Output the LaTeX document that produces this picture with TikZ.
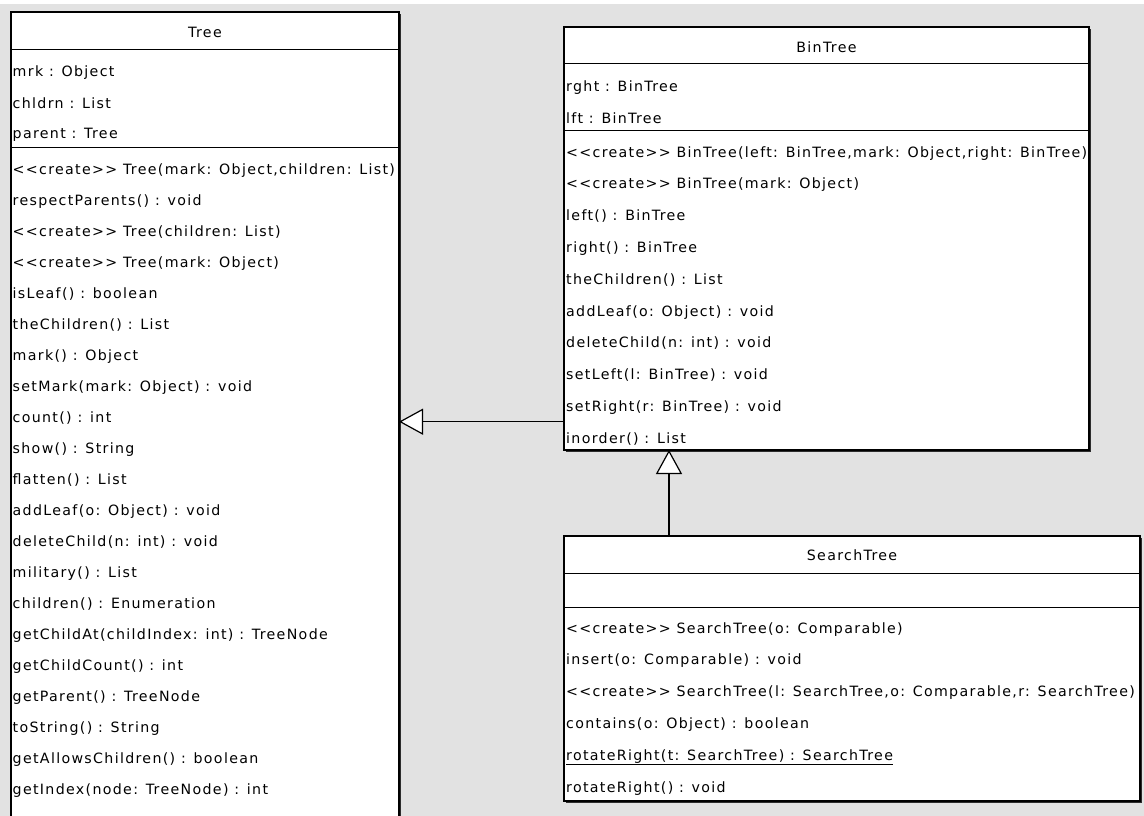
\documentclass[tikz,border=0pt]{standalone}
\usepackage{fontspec}
\usetikzlibrary{arrows.meta,shadows}
\newfontfamily\umlfont{DejaVu Sans}[LetterSpace=9.3,Ligatures=TeXOff]
\definecolor{canvas}{RGB}{226,226,226}
\definecolor{shade}{RGB}{45,45,45}
\begin{document}
\begin{tikzpicture}[x=1pt,y=-1pt,
  classbox/.style={draw=black, line width=1.2pt, fill=white, rectangle,
    inner sep=0pt, outer sep=0pt, anchor=north west,
    general shadow={shadow xshift=2pt, shadow yshift=-2pt, fill=shade}},
  member/.style={anchor=base west, inner sep=0pt,
    font=\umlfont\fontsize{14.2}{16}\selectfont},
  cname/.style={anchor=base, inner sep=0pt,
    font=\umlfont\fontsize{14.2}{16}\selectfont},
  divider/.style={line width=1pt, draw=black},
  inherit/.style={line width=1.2pt, draw=black,
    -{Triangle[length=24pt,width=26pt,fill=white]}}]
\useasboundingbox (0,0) rectangle (1144,816);
\clip (0,0) rectangle (1144,816);
% canvas
\fill[canvas] (0,0) rectangle (1144,816);
\fill[white] (0,0) rectangle (1144,4);

% ---------------- class boxes ----------------
\node[classbox, minimum width=388pt, minimum height=830pt] (tree) at (11,12) {};
\node[classbox, minimum width=525pt, minimum height=423pt] (bintree) at (564,27) {};
\node[classbox, minimum width=576pt, minimum height=265pt] (searchtree) at (564,536) {};

% compartment dividers
\draw[divider] ([yshift=-38pt]tree.north west) -- ([yshift=-38pt]tree.north east);
\draw[divider] ([yshift=-135pt]tree.north west) -- ([yshift=-135pt]tree.north east);
\draw[divider] ([yshift=-37pt]bintree.north west) -- ([yshift=-37pt]bintree.north east);
\draw[divider] ([yshift=-103.5pt]bintree.north west) -- ([yshift=-103.5pt]bintree.north east);
\draw[divider] ([yshift=-37pt]searchtree.north west) -- ([yshift=-37pt]searchtree.north east);
\draw[divider] ([yshift=-71pt]searchtree.north west) -- ([yshift=-71pt]searchtree.north east);

% ---------------- Tree ----------------
\node[cname] (tree-name) at (205,38) {Tree};
\foreach \txt [count=\i from 0] in {{mrk : Object},{chldrn : List},{parent : Tree}}
  \node[member] (tree-attr-\i) at (12.5,{77+31*\i}) {\txt};
\foreach \txt [count=\i from 0] in {
  {<<create>> Tree(mark: Object,children: List)},
  {respectParents() : void},
  {<<create>> Tree(children: List)},
  {<<create>> Tree(mark: Object)},
  {isLeaf() : boolean},
  {theChildren() : List},
  {mark() : Object},
  {setMark(mark: Object) : void},
  {count() : int},
  {show() : String},
  {flatten() : List},
  {addLeaf(o: Object) : void},
  {deleteChild(n: int) : void},
  {military() : List},
  {children() : Enumeration},
  {getChildAt(childIndex: int) : TreeNode},
  {getChildCount() : int},
  {getParent() : TreeNode},
  {toString() : String},
  {getAllowsChildren() : boolean},
  {getIndex(node: TreeNode) : int}}
  \node[member] (tree-op-\i) at (12.5,{174.5+31*\i}) {\txt};

% ---------------- BinTree ----------------
\node[cname] (bintree-name) at (826.5,52.5) {BinTree};
\foreach \txt [count=\i from 0] in {{rght : BinTree},{lft : BinTree}}
  \node[member] (bintree-attr-\i) at (566,{92+31.5*\i}) {\txt};
\foreach \txt [count=\i from 0] in {
  {<<create>> BinTree(left: BinTree,mark: Object,right: BinTree)},
  {<<create>> BinTree(mark: Object)},
  {left() : BinTree},
  {right() : BinTree},
  {theChildren() : List},
  {addLeaf(o: Object) : void},
  {deleteChild(n: int) : void},
  {setLeft(l: BinTree) : void},
  {setRight(r: BinTree) : void},
  {inorder() : List}}
  \node[member] (bintree-op-\i) at (566,{157+31.8*\i}) {\txt};

% ---------------- SearchTree ----------------
\node[cname] (searchtree-name) at (852,560) {SearchTree};
\foreach \txt [count=\i from 0] in {
  {<<create>> SearchTree(o: Comparable)},
  {insert(o: Comparable) : void},
  {<<create>> SearchTree(l: SearchTree,o: Comparable,r: SearchTree)},
  {contains(o: Object) : boolean},
  {\underline{rotateRight(t: SearchTree) : SearchTree}},
  {rotateRight() : void}}
  \node[member] (searchtree-op-\i) at (566,{633+31.8*\i}) {\txt};

% ---------------- generalisations ----------------
\coordinate (genA) at ([yshift=28.3pt]bintree.south west);
\draw[inherit] (genA) -- (tree.east |- genA);
\coordinate (genB) at ([xshift=105pt]searchtree.north west);
\draw[inherit] (genB) -- (bintree.south -| genB);
\end{tikzpicture}
\end{document}
